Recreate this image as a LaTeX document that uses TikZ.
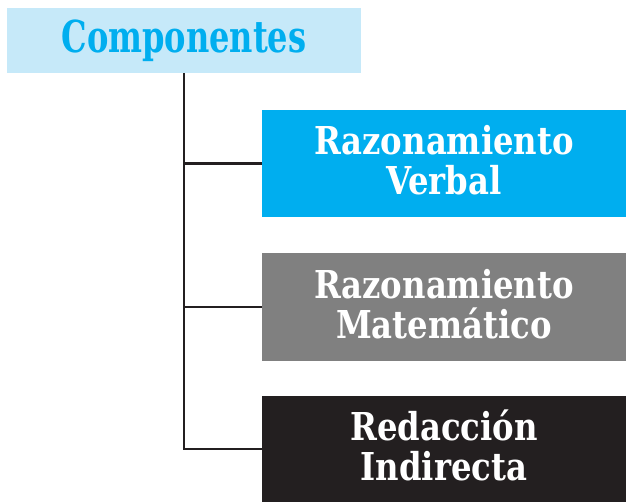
\documentclass[tikz,border=0pt]{standalone}
\usepackage{fontspec}
\setmainfont{DejaVu Serif Condensed}[BoldFont={DejaVu Serif Condensed Bold}]
\newfontfamily\titular{DejaVu Serif Condensed Bold}[FakeStretch=0.81]
\newfontfamily\rotulo{DejaVu Serif Condensed Bold}[FakeStretch=0.935]
\definecolor{celeste}{HTML}{C6E9F9}
\definecolor{cian}{HTML}{00AEEF}
\definecolor{gris}{HTML}{808080}
\definecolor{negro}{HTML}{231F20}
\tikzset{
  caja/.style={inner sep=0pt,minimum width=364pt,text width=340pt,align=center,
    text depth=47pt,text=white,font=\rotulo\fontsize{38.4}{40}\selectfont},
  rama/.style={draw=negro,line width=2.2pt}
}
\begin{document}
\begin{tikzpicture}[x=1pt,y=1pt]
				\useasboundingbox (0,0) rectangle (626,-502);
				\node[fill=celeste,minimum width=354pt,minimum height=65pt,inner sep=0pt,
				  text=cian,font=\titular\fontsize{44}{44}\selectfont] (comp) at (184,-40.5) {Componentes};
				\node[caja,fill=cian,minimum height=107pt] (verbal) at (444,-163.5) {Razonamiento\\Verbal};
				\node[caja,fill=gris,minimum height=108pt] (mate) at (444,-307) {Razonamiento\\Matemático};
				\node[caja,fill=negro,minimum height=106pt] (redac) at (444,-449) {Redacción\\Indirecta};
				\draw[rama] (comp.south) |- (redac.west);
				\draw[rama] (comp.south |- verbal.west) -- (verbal.west);
				\draw[rama] (comp.south |- mate.west) -- (mate.west);
			\end{tikzpicture}
\end{document}
